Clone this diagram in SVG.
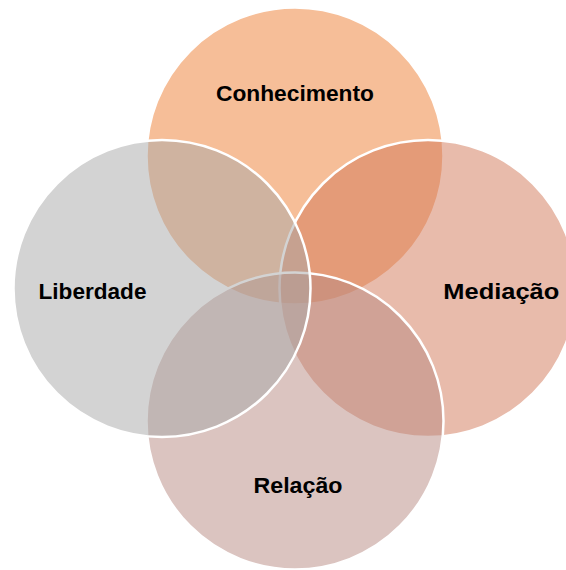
<svg xmlns="http://www.w3.org/2000/svg" width="566" height="570" viewBox="0 0 566 570">
<style>
.c{stroke:#FFFFFF;stroke-width:2.5;}
.t{font-family:"Liberation Sans",Arial,sans-serif;font-weight:bold;font-size:22.5px;fill:#000000;text-anchor:middle;}
</style>
<rect width="566" height="570" fill="#FFFFFF"/>
<g id="conhecimento">
<circle class="c" cx="295" cy="156" r="148.5" fill="#ED7D31" fill-opacity="0.5"/>
</g>
<g id="mediacao">
<circle class="c" cx="428" cy="288.5" r="148.5" fill="#D17757" fill-opacity="0.5"/>
</g>
<g id="relacao">
<circle class="c" cx="295" cy="421" r="148.5" fill="#B78981" fill-opacity="0.5"/>
</g>
<g id="liberdade">
<circle class="c" cx="162" cy="288.5" r="148.5" fill="#A7A7A7" fill-opacity="0.5"/>
</g>
<g id="labels">
<text class="t" x="295" y="101" textLength="158" lengthAdjust="spacingAndGlyphs">Conhecimento</text>
<text class="t" x="92.5" y="298.5" textLength="108" lengthAdjust="spacingAndGlyphs">Liberdade</text>
<text class="t" x="501.3" y="298.5" textLength="116" lengthAdjust="spacingAndGlyphs">Mediação</text>
<text class="t" x="298" y="493" textLength="89" lengthAdjust="spacingAndGlyphs">Relação</text>
</g>
<g id="connectors"/>
</svg>
